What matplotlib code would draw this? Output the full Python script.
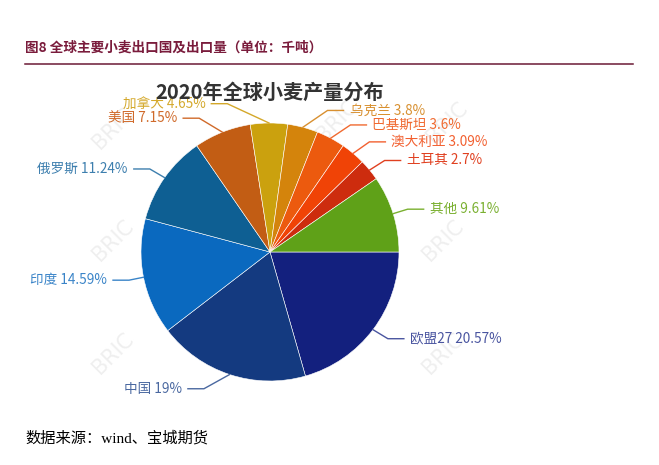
import numpy as np
import matplotlib
matplotlib.use('Agg')
from matplotlib import pyplot as plt

plt.rcParams['font.family'] = ['Noto Sans CJK SC', 'DejaVu Sans']

# data, clockwise from 3 o'clock
names = ['欧盟27', '中国', '印度', '俄罗斯', '美国', '加拿大', '乌克兰', '巴基斯坦', '澳大利亚', '土耳其', '其他']
shares = [20.57, 19, 14.59, 11.24, 7.15, 4.65, 3.8, 3.6, 3.09, 2.7, 9.61]

slice_colors = ['#13207e', '#143a80', '#0a69bf', '#0e5f93', '#c25d14', '#cba10e',
                '#d4840c', '#ec5a0e', '#f04306', '#cd2c0e', '#5fa118']
label_colors = ['#4a55a0', '#4a68a0', '#3a84c8', '#3d7fae', '#d06a2a', '#d4a82a',
                '#d89030', '#f06a30', '#f26030', '#e04020', '#7ab030']

W, H = 659, 465
fig = plt.figure(figsize=(W / 100, H / 100), dpi=100)
ax = fig.add_axes([0, 0, 1, 1])

cx, cy, r = 270, 252, 129

# watermarks under the pie
for wx, wy in [(113, 128), (113, 240), (113, 353), (337, 120), (447, 122), (443, 240), (443, 353)]:
    ax.text(wx, wy, 'BRIC', rotation=45, fontsize=15, color='#efefef',
            ha='center', va='center', zorder=0, family='DejaVu Sans')

wedges, _ = ax.pie(shares, colors=slice_colors, center=(cx, cy), radius=r,
                   startangle=0, counterclock=True,
                   wedgeprops=dict(edgecolor='white', linewidth=0.4))
for w in wedges:
    w.set_zorder(2)

ax.set_xlim(0, W)
ax.set_ylim(H, 0)
ax.set_aspect('equal')
ax.axis('off')

# label layout (echarts style): y from radius r+L1, x on a circle of radius R
L1, L2, gap, R = 15, 16, 6, 159.5
min_dy = 14.5
mids = []
acc = 0
for s in shares:
    mids.append(np.deg2rad((acc + s / 2) * 3.6))
    acc += s

labels = []
for i, th in enumerate(mids):
    side = 1 if np.cos(th) >= 0 else -1
    ly = cy + (r + L1) * np.sin(th)
    labels.append([i, side, ly])

# push overlapping labels upward
for side in (1, -1):
    grp = sorted([l for l in labels if l[1] == side], key=lambda l: -l[2])
    for a, b in zip(grp, grp[1:]):
        if a[2] - b[2] < min_dy:
            b[2] = a[2] - min_dy

for i, side, ly in labels:
    th = mids[i]
    px, py = cx + r * np.cos(th), cy + r * np.sin(th)
    dy = ly - cy
    endx = cx + side * np.sqrt(max(R ** 2 - dy ** 2, 0))
    ex = endx - side * L2
    ax.plot([px, ex, endx], [py, ly, ly], color=label_colors[i], lw=1, zorder=3,
            solid_joinstyle='miter')
    ax.text(endx + side * gap, ly, f'{names[i]} {shares[i]:g}%', color=label_colors[i],
            fontsize=9.8, ha='left' if side > 0 else 'right', va='center', zorder=4)

# titles and header
ax.text(270, 92, '2020年全球小麦产量分布', fontsize=14.5, fontweight='bold',
        color='#333333', ha='center', va='center', zorder=4)
ax.text(25, 48, '图8 全球主要小麦出口国及出口量（单位：千吨）', fontsize=9.8,
        fontweight='bold', color='#7a1c3c', ha='left', va='center')
ax.plot([25, 633], [64, 64], color='#6b1a35', lw=1.1)
ax.text(25, 438, '数据来源：wind、宝城期货', fontsize=11, color='black',
        ha='left', va='center', family=['Liberation Serif', 'Noto Sans CJK SC'])

fig.savefig('out.png', dpi=100)
